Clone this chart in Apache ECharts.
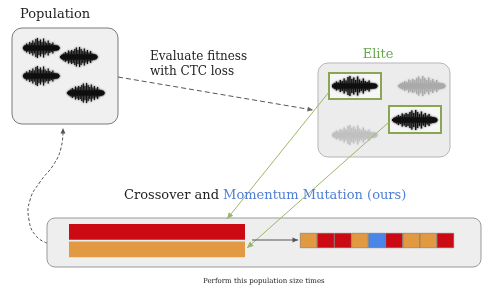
<!DOCTYPE html>
<html><head><meta charset="utf-8">
<script src="https://cdn.jsdelivr.net/npm/echarts@6/dist/echarts.min.js"></script>
<style>html,body{margin:0;padding:0;background:#fff}#c{width:484px;height:287px}</style>
</head><body><div id="c"></div>
<script>
// ---- data ----
const childGenes = ['orange','red','red','orange','blue','red','orange','orange','red'];
const parentNames = ['Parent A','Parent B'];
const parentGenes = ['red','orange'];
const geneColors = {red:'#cc0a14', orange:'#e29a42', blue:'#4a86e8'};
const waveEnvA = [0.15,0.3,0.45,0.35,0.6,0.5,0.75,0.55,0.9,1.0,0.7,0.85,0.6,0.95,0.65,0.5,0.75,0.5,0.4,0.55,0.3,0.25,0.15,0.1];
const waveEnvB = [0.1,0.2,0.35,0.5,0.4,0.65,0.55,0.7,0.6,0.8,0.95,0.7,1.0,0.8,0.6,0.85,0.55,0.7,0.45,0.6,0.35,0.3,0.2,0.1];
const labelPopulation = 'Population';
const labelEvaluate = 'Evaluate fitness\nwith CTC loss';
const labelElite = 'Elite';
const labelCross = 'Crossover and ';
const labelMomentum = 'Momentum Mutation (ours)';
const labelRepeat = 'Perform this population size times';

const FONT = '"DejaVu Serif", serif';

function wave(x0, x1, cy, h, env, color) {
  const n = env.length, step = (x1 - x0) / n;
  const st = {fill:color, shadowBlur:2, shadowColor:color};
  const children = [{type:'rect', z:3, shape:{x:x0+step*0.5, y:cy-2.5, width:(x1-x0)-step, height:5, r:2}, style:st}];
  env.forEach((e, i) => {
    children.push({type:'rect', z:3, shape:{x:x0+i*step, y:cy-e*h, width:step*0.7, height:2*e*h}, style:st});
  });
  return {type:'group', z:3, children};
}
function arrowHead(x1, y1, x2, y2, size, color) {
  const a = Math.atan2(y2-y1, x2-x1), s = 0.42;
  return {type:'polygon', z:20, shape:{points:[[x2,y2],
    [x2-size*Math.cos(a-s), y2-size*Math.sin(a-s)],
    [x2-size*Math.cos(a+s), y2-size*Math.sin(a+s)]]}, style:{fill:color}};
}
function line(x1,y1,x2,y2,color,dash){
  return {type:'line', z:20, shape:{x1,y1,x2,y2}, style:{stroke:color, lineWidth:1, lineDash:dash||null}};
}

const chart = echarts.init(document.getElementById('c'), null, {renderer:'canvas'});
const green = '#9bb66a';
const graphics = [
  // boxes
  {type:'rect', z:0, shape:{x:12, y:28, width:106, height:96, r:10}, style:{fill:'#f0f0f0', stroke:'#7a7a7a', lineWidth:1}},
  {type:'rect', z:0, shape:{x:318, y:63, width:132, height:94, r:10}, style:{fill:'#ececec', stroke:'#b5b5b5', lineWidth:1}},
  {type:'rect', z:0, shape:{x:47, y:218, width:434, height:49, r:8}, style:{fill:'#eeeeee', stroke:'#999', lineWidth:1}},
  {type:'rect', z:1, shape:{x:329, y:73, width:52, height:26}, style:{fill:'#f6f6f6', stroke:'#8aa553', lineWidth:2}},
  {type:'rect', z:1, shape:{x:389, y:106, width:52, height:27}, style:{fill:'#f6f6f6', stroke:'#8aa553', lineWidth:2}},
  // waveforms
  wave(23, 60, 48, 10, waveEnvA, '#111'),
  wave(60, 98, 57, 10, waveEnvB, '#111'),
  wave(23, 60, 76, 10, waveEnvA, '#111'),
  wave(67, 105, 93, 10, waveEnvB, '#111'),
  wave(332, 378, 86, 10, waveEnvA, '#111'),
  wave(398, 446, 86, 10, waveEnvB, '#aaaaaa'),
  wave(392, 438, 120, 10, waveEnvB, '#111'),
  wave(332, 378, 135, 10, waveEnvA, '#c0c0c0'),
  // dashed fitness arrow
  line(118, 77, 313, 110, '#555', [5,3]),
  arrowHead(118, 77, 313, 110, 6, '#666'),
  // green arrows
  line(329, 92, 227, 219, green),
  arrowHead(329, 92, 227, 219, 7, green),
  line(389, 122, 247, 248, green),
  arrowHead(389, 122, 247, 248, 7, green),
  // gray arrow in bottom box
  line(252, 240, 298, 240, '#555'),
  arrowHead(252, 240, 298, 240, 6, '#555'),
  // curved dashed loop arrow
  {type:'polyline', z:20, shape:{points:[[47,243],[36,236],[29,220],[30,200],[40,182],[54,164],[61,148],[63,131]], smooth:0.5},
   style:{stroke:'#555', lineWidth:1, lineDash:[3,2], fill:null}},
  arrowHead(63, 140, 63, 128, 6, '#555'),
  // texts
  {type:'text', z:30, x:20, y:15, style:{text:labelPopulation, font:'13px '+FONT, fill:'#222', textVerticalAlign:'middle'}},
  {type:'text', z:30, x:150, y:49, style:{text:labelEvaluate, font:'12px '+FONT, fill:'#222', lineHeight:15}},
  {type:'text', z:30, x:378, y:55, style:{text:labelElite, font:'13px '+FONT, fill:'#6aa84f', textAlign:'center', textVerticalAlign:'middle'}},
  {type:'text', z:30, x:124, y:196, style:{rich:{a:{fill:'#222', font:'13px '+FONT}, b:{fill:'#4f7fd4', font:'13px '+FONT}},
    text:'{a|'+labelCross+'}{b|'+labelMomentum+'}', textVerticalAlign:'middle'}},
  {type:'text', z:30, x:203, y:281, style:{text:labelRepeat, font:'7px '+FONT, fill:'#222', textVerticalAlign:'middle'}}
];

chart.setOption({
  animation:false,
  grid:[
    {left:300, top:233, width:154, height:15},
    {left:69, top:223, width:176, height:35}
  ],
  xAxis:[
    {gridIndex:0, type:'category', data:childGenes.map((g,i)=>'gene'+i), show:false},
    {gridIndex:1, type:'value', min:0, max:1, show:false}
  ],
  yAxis:[
    {gridIndex:0, type:'value', min:0, max:1, show:false},
    {gridIndex:1, type:'category', data:parentNames, inverse:true, show:false}
  ],
  series:[
    {type:'bar', xAxisIndex:0, yAxisIndex:0, barCategoryGap:'0%', z:5,
     data:childGenes.map(g=>({value:1, itemStyle:{color:geneColors[g], borderColor:'#666', borderWidth:0.5}}))},
    {type:'bar', xAxisIndex:1, yAxisIndex:1, barCategoryGap:'10%', z:5,
     data:parentGenes.map(g=>({value:1, itemStyle:{color:geneColors[g]}}))}
  ],
  graphic:{elements:graphics}
});
</script></body></html>
